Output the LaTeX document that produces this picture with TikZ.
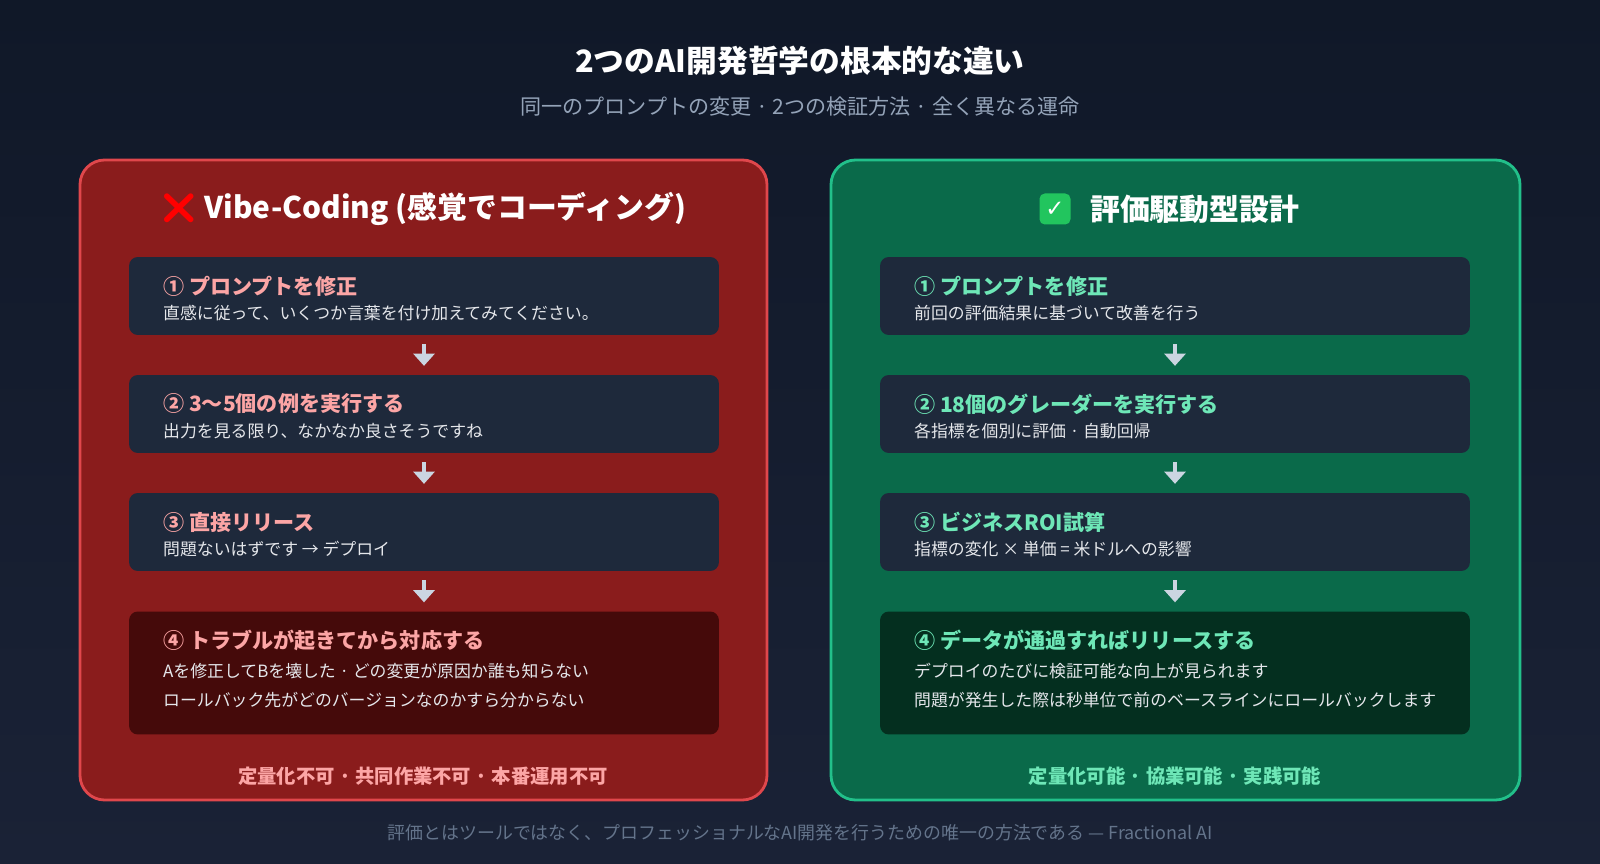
\documentclass[tikz,border=0pt]{standalone}
\usepackage{fontspec}
\setmainfont{Noto Sans CJK JP}
\newfontfamily\emojifont{Noto Emoji}
\newfontfamily\symfont{DejaVu Sans}
\usetikzlibrary{arrows.meta}
\definecolor{bgtop}{HTML}{101828}
\definecolor{bgbot}{HTML}{1A2236}
\definecolor{redfill}{HTML}{8A1C1C}
\definecolor{redline}{HTML}{E0474C}
\definecolor{grnfill}{HTML}{0A6A4A}
\definecolor{grnline}{HTML}{22C08A}
\definecolor{itemfill}{HTML}{1E293B}
\definecolor{redend}{HTML}{450A0A}
\definecolor{grnend}{HTML}{042F1F}
\definecolor{pinktxt}{HTML}{FCA5A5}
\definecolor{mint}{HTML}{6EE7B7}
\definecolor{bodytxt}{HTML}{E5E7EB}
\definecolor{subtxt}{HTML}{94A3B8}
\definecolor{foottxt}{HTML}{64748B}
\definecolor{arrowc}{HTML}{CBD5E1}
\definecolor{checkc}{HTML}{22C55E}
\tikzset{
  panel/.style={rounded corners=14pt, line width=1.6pt},
  item/.style={rounded corners=5pt, minimum width=11.8cm, inner sep=0pt},
  itemtitle/.style={anchor=west, font=\bfseries\fontsize{12}{14}\selectfont},
  itemtext/.style={anchor=west, text=bodytxt, font=\fontsize{9.6}{11}\selectfont},
  flow/.style={arrowc, line width=2pt, -{Triangle[length=7pt,width=12pt]}, shorten <=5pt, shorten >=5pt}
}
\begin{document}
\begin{tikzpicture}[x=0.02cm, y=-0.02cm]
\useasboundingbox (0,0) rectangle (1600,864);
\shade[top color=bgtop, bottom color=bgbot] (0,0) rectangle (1600,864);

% title
\node (title) at (800,61) {\color{white}\bfseries\fontsize{17.5}{20}\selectfont 2つのAI開発哲学の根本的な違い};
\node (subtitle) at (800,107) {\color{subtxt}\fontsize{12}{14}\selectfont 同一のプロンプトの変更 · 2つの検証方法 · 全く異なる運命};

% left panel
\draw[panel, fill=redfill, draw=redline] (80,160) rectangle (767,800);
\node (lhead) at (423,209) {\color{red}\emojifont\fontsize{17}{20}\selectfont ❌\color{white}\rmfamily\bfseries\ Vibe-Coding (感覚でコーディング)};
\node[item, fill=itemfill, minimum height=1.56cm] (l1) at (424,296) {};
\node[item, fill=itemfill, minimum height=1.56cm] (l2) at (424,414) {};
\node[item, fill=itemfill, minimum height=1.56cm] (l3) at (424,532) {};
\node[item, fill=redend, minimum height=2.46cm] (l4) at (424,673) {};
\node[itemtitle, text=pinktxt] (l1t) at (157,286) {① プロンプトを修正};
\node[itemtext] (l1x) at (157,313) {直感に従って、いくつか言葉を付け加えてみてください。};
\node[itemtitle, text=pinktxt] (l2t) at (157,404) {② 3〜5個の例を実行する};
\node[itemtext] (l2x) at (157,431) {出力を見る限り、なかなか良さそうですね};
\node[itemtitle, text=pinktxt] (l3t) at (157,522) {③ 直接リリース};
\node[itemtext] (l3x) at (157,549) {問題ないはずです → デプロイ};
\node[itemtitle, text=pinktxt] (l4t) at (157,640) {④ トラブルが起きてから対応する};
\node[itemtext] (l4x) at (157,671) {Aを修正してBを壊した · どの変更が原因か誰も知らない};
\node[itemtext] (l4y) at (157,700) {ロールバック先がどのバージョンなのかすら分からない};
\node (lfoot) at (423,776) {\color{pinktxt}\bfseries\fontsize{11}{12}\selectfont 定量化不可 · 共同作業不可 · 本番運用不可};
\draw[flow] (l1) -- (l2);
\draw[flow] (l2) -- (l3);
\draw[flow] (l3) -- (l4);

% right panel
\draw[panel, fill=grnfill, draw=grnline] (831,160) rectangle (1520,800);
\node[fill=checkc, rounded corners=3pt, minimum size=0.62cm, inner sep=0pt, font=\symfont\bfseries\fontsize{13}{13}\selectfont, text=white] (rcheck) at (1055,209) {✓};
\node[anchor=west] (rhead) at (1084,209) {\color{white}\bfseries\fontsize{17}{20}\selectfont 評価駆動型設計};
\node[item, fill=itemfill, minimum height=1.56cm] (r1) at (1175,296) {};
\node[item, fill=itemfill, minimum height=1.56cm] (r2) at (1175,414) {};
\node[item, fill=itemfill, minimum height=1.56cm] (r3) at (1175,532) {};
\node[item, fill=grnend, minimum height=2.46cm] (r4) at (1175,673) {};
\node[itemtitle, text=mint] (r1t) at (908,286) {① プロンプトを修正};
\node[itemtext] (r1x) at (908,313) {前回の評価結果に基づいて改善を行う};
\node[itemtitle, text=mint] (r2t) at (908,404) {② 18個のグレーダーを実行する};
\node[itemtext] (r2x) at (908,431) {各指標を個別に評価 · 自動回帰};
\node[itemtitle, text=mint] (r3t) at (908,522) {③ ビジネスROI試算};
\node[itemtext] (r3x) at (908,549) {指標の変化 × 単価 = 米ドルへの影響};
\node[itemtitle, text=mint] (r4t) at (908,640) {④ データが通過すればリリースする};
\node[itemtext] (r4x) at (908,671) {デプロイのたびに検証可能な向上が見られます};
\node[itemtext] (r4y) at (908,700) {問題が発生した際は秒単位で前のベースラインにロールバックします};
\node (rfoot) at (1175,776) {\color{mint}\bfseries\fontsize{11}{12}\selectfont 定量化可能 · 協業可能 · 実践可能};
\draw[flow] (r1) -- (r2);
\draw[flow] (r2) -- (r3);
\draw[flow] (r3) -- (r4);

\node (footer) at (800,833) {\color{foottxt}\fontsize{10.2}{11}\selectfont 評価とはツールではなく、プロフェッショナルなAI開発を行うための唯一の方法である — Fractional AI};
\end{tikzpicture}
\end{document}
